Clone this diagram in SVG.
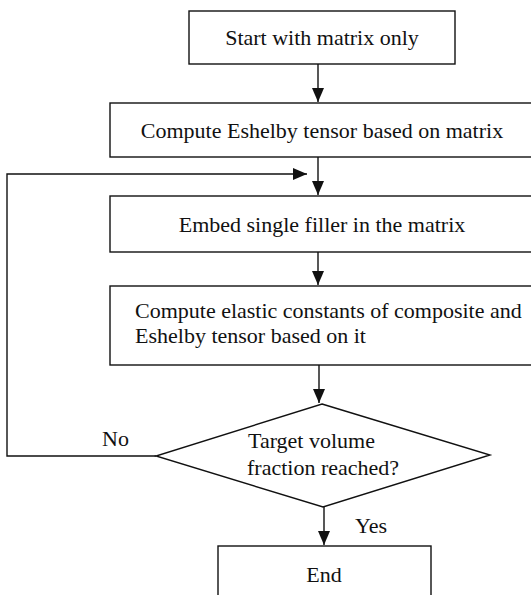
<svg xmlns="http://www.w3.org/2000/svg" width="531" height="595" viewBox="0 0 531 595">
<defs>
<style>
.box{fill:#fff;stroke:#111;stroke-width:1.4}
.ln{fill:none;stroke:#111;stroke-width:1.4}
text{font-family:"Liberation Serif","Times New Roman",serif;font-size:22px;fill:#111}
.c{text-anchor:middle}
</style>
<marker id="ah" viewBox="0 0 14 12" refX="14" refY="6" markerWidth="14" markerHeight="12" markerUnits="userSpaceOnUse" orient="auto">
<path d="M0,0 L14,6 L0,12 z" fill="#111"/>
</marker>
</defs>
<rect width="531" height="595" fill="#fff"/>
<g id="connectors">
<line class="ln" x1="318" y1="64" x2="318" y2="102" marker-end="url(#ah)"/>
<line class="ln" x1="318" y1="157" x2="318" y2="195" marker-end="url(#ah)"/>
<path class="ln" d="M156,456 H7 V174 H307" marker-end="url(#ah)"/>
<line class="ln" x1="318" y1="252" x2="318" y2="285" marker-end="url(#ah)"/>
<line class="ln" x1="319" y1="365" x2="319" y2="403" marker-end="url(#ah)"/>
<line class="ln" x1="324" y1="507" x2="324" y2="545" marker-end="url(#ah)"/>
<text x="102" y="446">No</text>
<text x="355" y="533">Yes</text>
</g>
<g id="start">
<rect class="box" x="189" y="11" width="266" height="53"/>
<text class="c" x="322" y="45">Start with matrix only</text>
</g>
<g id="eshelby">
<rect class="box" x="110" y="103" width="425" height="54"/>
<text class="c" x="322" y="138">Compute Eshelby tensor based on matrix</text>
</g>
<g id="embed">
<rect class="box" x="110" y="196" width="425" height="56"/>
<text class="c" x="322" y="232">Embed single filler in the matrix</text>
</g>
<g id="compute">
<rect class="box" x="110" y="286" width="425" height="79"/>
<text x="135" y="318">Compute elastic constants of composite and</text>
<text x="135" y="343">Eshelby tensor based on it</text>
</g>
<g id="decision">
<polygon class="box" points="322,404 490,455 323,507 156,456"/>
<text x="248" y="448">Target volume</text>
<text x="247" y="475">fraction reached?</text>
</g>
<g id="end">
<rect class="box" x="218" y="546" width="213" height="60"/>
<text class="c" x="324" y="582">End</text>
</g>
</svg>
